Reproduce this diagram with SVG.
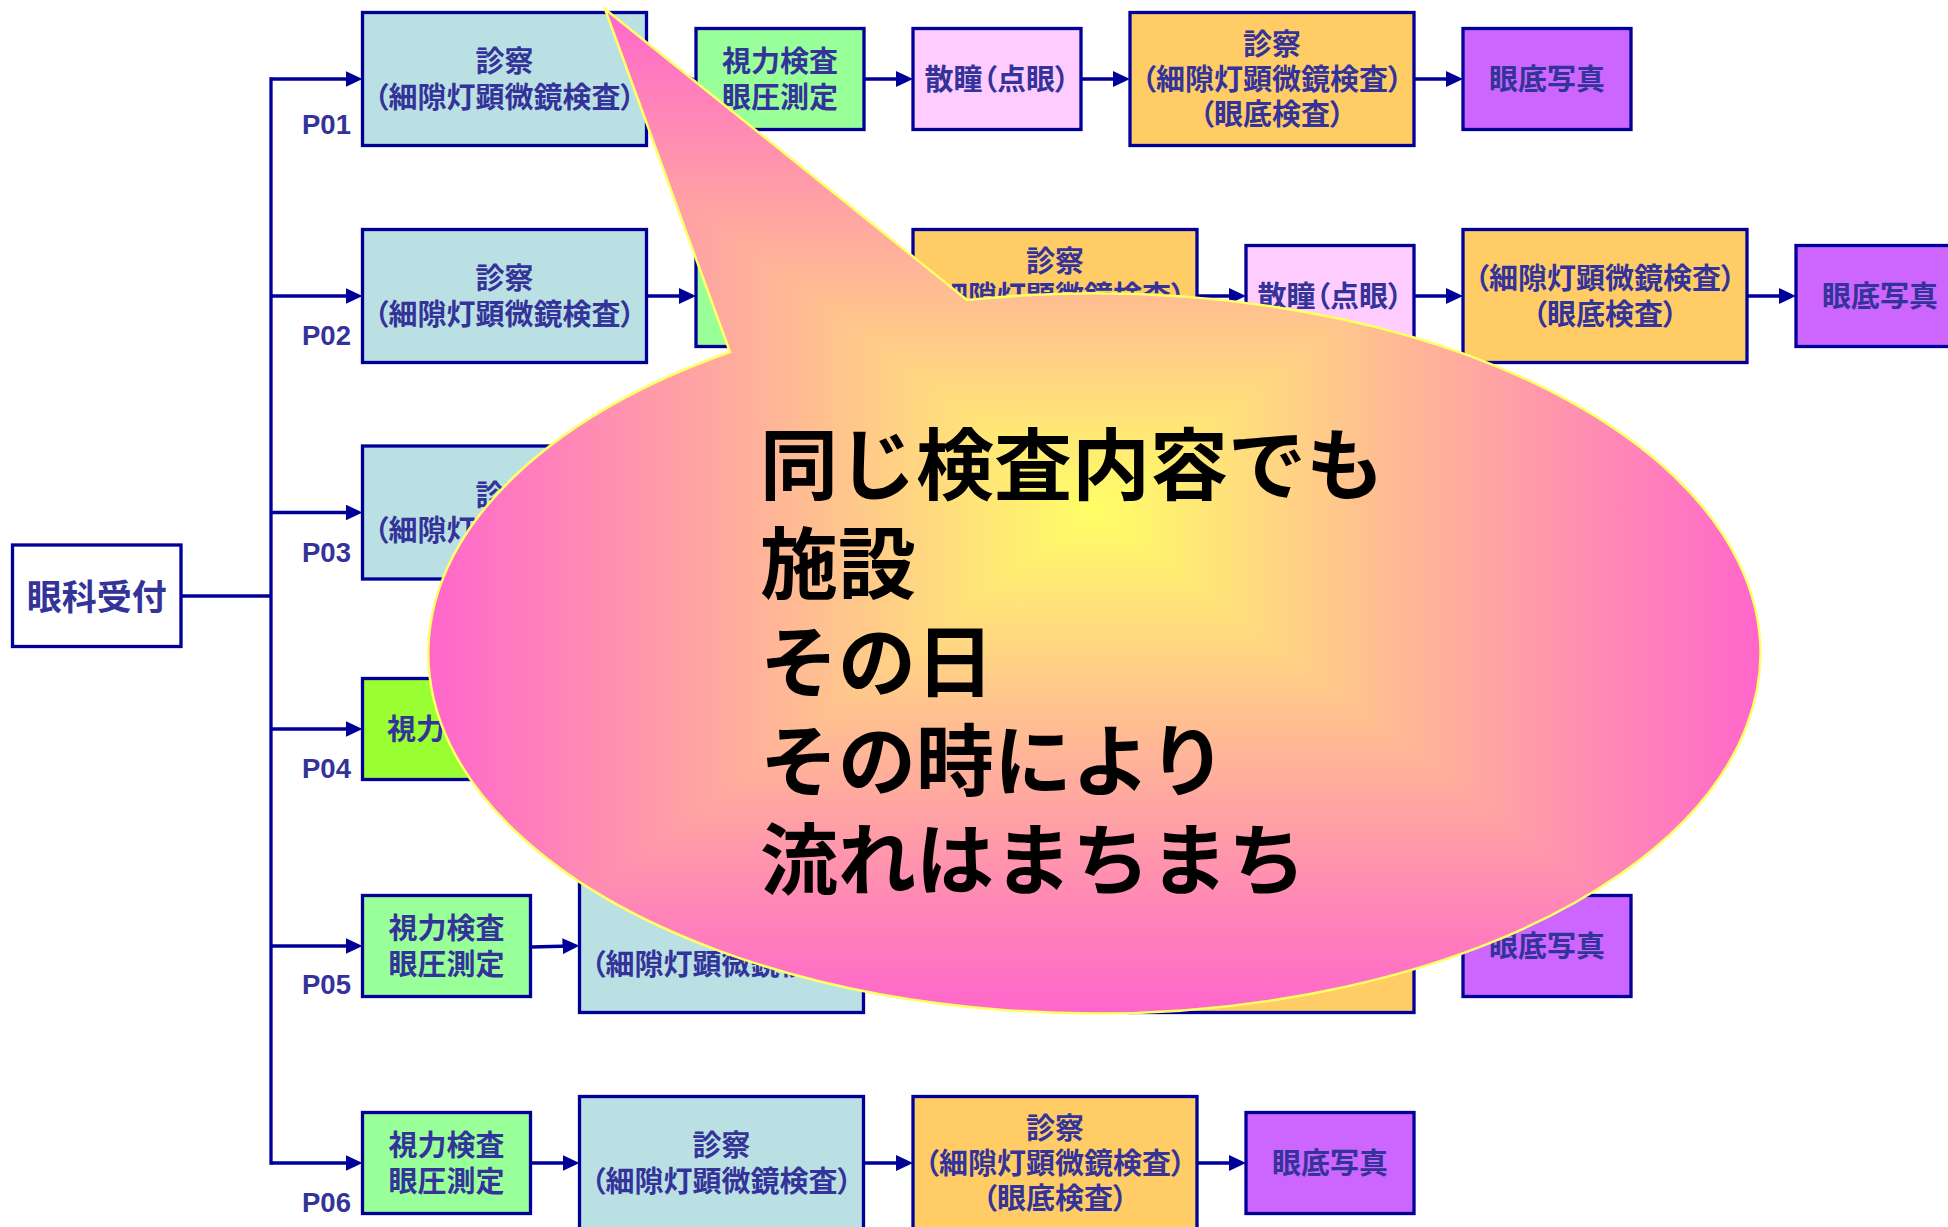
<svg xmlns="http://www.w3.org/2000/svg" width="1948" height="1227" viewBox="0 0 1948 1227">
<style>
.box{stroke:#000099;stroke-width:3.3}
.blue{fill:#BBE0E3}.green{fill:#99FF99}.lime{fill:#99FF33}.pink{fill:#FFCCFF}.orange{fill:#FFCC66}.purple{fill:#CC66FF}.white{fill:#FFFFFF}
.t{font-family:"Noto Sans CJK JP","Noto Sans CJK SC",sans-serif;font-weight:bold;font-size:29px;fill:#333399;text-anchor:middle;font-feature-settings:"palt"}
.lbl{font-family:"Liberation Sans",Arial,sans-serif;font-weight:bold;font-size:27.5px;fill:#333399}
.conn{stroke:#000099;stroke-width:3.3;fill:none}
.big{font-family:"Noto Sans CJK JP","Noto Sans CJK SC",sans-serif;font-weight:bold;font-size:78px;fill:#000000}
</style>
<defs>
<marker id="ah" markerUnits="userSpaceOnUse" markerWidth="17" markerHeight="16" viewBox="0 0 17 16" refX="9" refY="8" orient="auto">
<path d="M0,0 L17,8 L0,16 Z" fill="#000099"/>
</marker>
<radialGradient id="rg" gradientUnits="userSpaceOnUse" cx="0" cy="0" r="1" gradientTransform="translate(1095 511) scale(667 502)">
<stop offset="0" stop-color="#FFFF66"/><stop offset="1" stop-color="#FF66CC"/>
</radialGradient>
<linearGradient id="gt" gradientUnits="userSpaceOnUse" x1="0" y1="511" x2="0" y2="9"><stop offset="0" stop-color="#FFFF66"/><stop offset="1" stop-color="#FF66CC"/></linearGradient>
<linearGradient id="gb" gradientUnits="userSpaceOnUse" x1="0" y1="511" x2="0" y2="1013"><stop offset="0" stop-color="#FFFF66"/><stop offset="1" stop-color="#FF66CC"/></linearGradient>
<linearGradient id="gl" gradientUnits="userSpaceOnUse" x1="1095" y1="0" x2="429" y2="0"><stop offset="0" stop-color="#FFFF66"/><stop offset="1" stop-color="#FF66CC"/></linearGradient>
<linearGradient id="gr" gradientUnits="userSpaceOnUse" x1="1095" y1="0" x2="1761" y2="0"><stop offset="0" stop-color="#FFFF66"/><stop offset="1" stop-color="#FF66CC"/></linearGradient>
<path id="bubble" d="M730,352 L605,9 L967,300 A666,360 0 1 1 730,352 Z"/>
<clipPath id="bclip"><use href="#bubble"/></clipPath>
</defs>
<rect x="0" y="0" width="1948" height="1227" fill="#FFFFFF"/>

<g id="connectors">
<line class="conn" x1="181" y1="596" x2="271" y2="596"/>
<line class="conn" x1="271" y1="77.3" x2="271" y2="1164.7"/>
<g marker-end="url(#ah)">
<line class="conn" x1="271" y1="79" x2="354.5" y2="79"/>
<line class="conn" x1="271" y1="296" x2="354.5" y2="296"/>
<line class="conn" x1="271" y1="512.5" x2="354.5" y2="512.5"/>
<line class="conn" x1="271" y1="729" x2="354.5" y2="729"/>
<line class="conn" x1="271" y1="946" x2="354.5" y2="946"/>
<line class="conn" x1="271" y1="1163" x2="354.5" y2="1163"/>
<line class="conn" x1="646.5" y1="79" x2="688" y2="79"/>
<line class="conn" x1="864" y1="79" x2="905" y2="79"/>
<line class="conn" x1="1081" y1="79" x2="1122" y2="79"/>
<line class="conn" x1="1414" y1="79" x2="1455" y2="79"/>
<line class="conn" x1="646.5" y1="296" x2="688" y2="296"/>
<line class="conn" x1="864" y1="296" x2="905" y2="296"/>
<line class="conn" x1="1197" y1="296" x2="1238" y2="296"/>
<line class="conn" x1="1414" y1="296" x2="1455" y2="296"/>
<line class="conn" x1="1747" y1="296" x2="1788" y2="296"/>
<line class="conn" x1="530.5" y1="947" x2="571.5" y2="946"/>
<line class="conn" x1="530.5" y1="1163" x2="571.5" y2="1163"/>
<line class="conn" x1="863.5" y1="1163" x2="905" y2="1163"/>
<line class="conn" x1="1197" y1="1163" x2="1238" y2="1163"/>
</g>
</g>

<g id="reception">
<rect class="box white" x="12.5" y="545" width="168.5" height="101.5"/>
<text class="t" x="96.7" y="609.5" style="font-size:35px">眼科受付</text>
</g>

<g id="labels">
<text class="lbl" x="302" y="134">P01</text>
<text class="lbl" x="302" y="345">P02</text>
<text class="lbl" x="302" y="561.5">P03</text>
<text class="lbl" x="302" y="778">P04</text>
<text class="lbl" x="302" y="994">P05</text>
<text class="lbl" x="302" y="1212">P06</text>
</g>

<g id="p01-exam">
<rect class="box blue" x="362.5" y="12.5" width="284" height="133"/>
<text class="t" x="504.5" y="72">診察</text>
<text class="t" x="504.5" y="107.5">（細隙灯顕微鏡検査）</text>
</g>
<g id="p01-vision">
<rect class="box green" x="696" y="28.5" width="168" height="101"/>
<text class="t" x="780" y="72">視力検査</text>
<text class="t" x="780" y="107.5">眼圧測定</text>
</g>
<g id="p01-dilate">
<rect class="box pink" x="913" y="28.5" width="168" height="101"/>
<text class="t" x="997" y="90">散瞳（点眼）</text>
</g>
<g id="p01-exam2">
<rect class="box orange" x="1130" y="12.5" width="284" height="133"/>
<text class="t" x="1272" y="54.5">診察</text>
<text class="t" x="1272" y="90">（細隙灯顕微鏡検査）</text>
<text class="t" x="1272" y="125">（眼底検査）</text>
</g>
<g id="p01-photo">
<rect class="box purple" x="1463" y="28.5" width="168" height="101"/>
<text class="t" x="1547" y="90">眼底写真</text>
</g>

<g id="p02-exam">
<rect class="box blue" x="362.5" y="229.5" width="284" height="133"/>
<text class="t" x="504.5" y="289">診察</text>
<text class="t" x="504.5" y="324.5">（細隙灯顕微鏡検査）</text>
</g>
<g id="p02-vision">
<rect class="box green" x="696" y="245.5" width="168" height="101"/>
</g>
<g id="p02-exam2">
<rect class="box orange" x="913" y="229.5" width="284" height="133"/>
<text class="t" x="1055" y="271.5">診察</text>
<text class="t" x="1055" y="307">（細隙灯顕微鏡検査）</text>
</g>
<g id="p02-dilate">
<rect class="box pink" x="1246" y="245.5" width="168" height="101"/>
<text class="t" x="1330" y="307">散瞳（点眼）</text>
</g>
<g id="p02-exam3">
<rect class="box orange" x="1463" y="229.5" width="284" height="133"/>
<text class="t" x="1605" y="289">（細隙灯顕微鏡検査）</text>
<text class="t" x="1605" y="324.5">（眼底検査）</text>
</g>
<g id="p02-photo">
<rect class="box purple" x="1796" y="245.5" width="168" height="101"/>
<text class="t" x="1880" y="307">眼底写真</text>
</g>

<g id="p03-exam">
<rect class="box blue" x="362.5" y="446" width="284" height="133"/>
<text class="t" x="504.5" y="505.5">診察</text>
<text class="t" x="504.5" y="541">（細隙灯顕微鏡検査）</text>
</g>

<g id="p04-vision">
<rect class="box lime" x="362.5" y="678.5" width="168" height="101"/>
<text class="t" x="387" y="740" style="text-anchor:start">視力</text>
</g>

<g id="p05-vision">
<rect class="box green" x="362.5" y="895.5" width="168" height="101"/>
<text class="t" x="446.5" y="939">視力検査</text>
<text class="t" x="446.5" y="974.5">眼圧測定</text>
</g>
<g id="p05-exam">
<rect class="box blue" x="579.5" y="879.5" width="284" height="133"/>
<text class="t" x="721.5" y="974.5">（細隙灯顕微鏡検査）</text>
</g>
<g id="p05-exam2">
<rect class="box orange" x="1130" y="879.5" width="284" height="133"/>
</g>
<g id="p05-photo">
<rect class="box purple" x="1463" y="895.5" width="168" height="101"/>
<text class="t" x="1547" y="957">眼底写真</text>
</g>

<g id="p06-vision">
<rect class="box green" x="362.5" y="1112.5" width="168" height="101"/>
<text class="t" x="446.5" y="1156">視力検査</text>
<text class="t" x="446.5" y="1191.5">眼圧測定</text>
</g>
<g id="p06-exam">
<rect class="box blue" x="579.5" y="1096.5" width="284" height="133"/>
<text class="t" x="721.5" y="1156">診察</text>
<text class="t" x="721.5" y="1191.5">（細隙灯顕微鏡検査）</text>
</g>
<g id="p06-exam2">
<rect class="box orange" x="913" y="1096.5" width="284" height="133"/>
<text class="t" x="1055" y="1138.5">診察</text>
<text class="t" x="1055" y="1174">（細隙灯顕微鏡検査）</text>
<text class="t" x="1055" y="1209">（眼底検査）</text>
</g>
<g id="p06-photo">
<rect class="box purple" x="1246" y="1112.5" width="168" height="101"/>
<text class="t" x="1330" y="1174">眼底写真</text>
</g>

<g id="callout">
<use href="#bubble" fill="url(#rg)"/>
<g clip-path="url(#bclip)">
<polygon points="1095,511 429,9 1761,9" fill="url(#gt)"/>
<polygon points="1095,511 1761,1013 429,1013" fill="url(#gb)"/>
<polygon points="1095,511 429,1013 429,9" fill="url(#gl)"/>
<polygon points="1095,511 1761,9 1761,1013" fill="url(#gr)"/>
</g>
<use href="#bubble" fill="none" stroke="#FFFF66" stroke-width="2.5"/>
<text class="big" x="760" y="494">同じ検査内容でも</text>
<text class="big" x="760" y="593">施設</text>
<text class="big" x="760" y="691">その日</text>
<text class="big" x="760" y="790">その時により</text>
<text class="big" x="760" y="889">流れはまちまち</text>
</g>
</svg>
